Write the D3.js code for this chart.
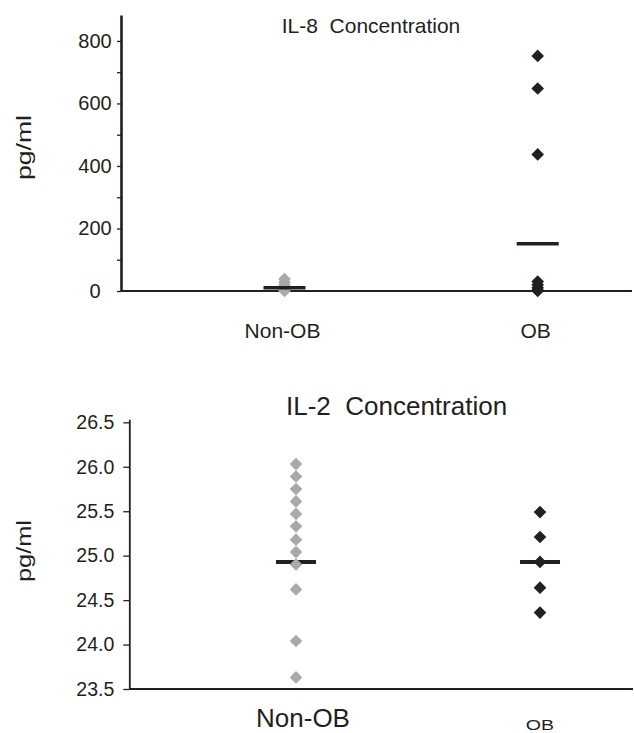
<!DOCTYPE html>
<html>
<head>
<meta charset="utf-8">
<script src="https://cdn.jsdelivr.net/npm/d3@7"></script>
<style>
  html, body { margin: 0; padding: 0; background: #fff; }
  svg { display: block; font-family: "Liberation Sans", Arial, Helvetica, sans-serif; }
</style>
</head>
<body>
<svg id="chart" width="634" height="733"></svg>
<script>
// Groups shared by both panels
const groups = ["Non-OB", "OB"];

// IL-8 concentration (pg/ml)
const il8NonOB = [38, 28, 18, 10, 4, 0];
const il8OB = [752, 648, 437, 30, 20, 10, 3, 0];
const il8Means = [10.6, 151];
const il8Ticks = [0, 100, 200, 300, 400, 500, 600, 700, 800];

// IL-2 concentration (pg/ml)
const il2NonOB = [26.03, 25.89, 25.75, 25.61, 25.47, 25.33, 25.18, 25.04, 24.90, 24.62, 24.04, 23.63];
const il2OB = [25.49, 25.21, 24.93, 24.64, 24.36];
const il2Means = [24.93, 24.93];
const il2Ticks = [23.5, 24.0, 24.5, 25.0, 25.5, 26.0, 26.5];

const INK = "#231f20";
const GREY = "#a7a9ac";

const svg = d3.select("#chart");
const diamond = d3.symbol(d3.symbolSquare, 80);

function drawPoints(g, x, y, values, group, color) {
  g.selectAll(null)
    .data(values)
    .join("path")
    .attr("d", diamond)
    .attr("fill", color)
    .attr("transform", d => `translate(${x(group)},${y(d)}) rotate(45)`);
}

function drawMeans(g, x, y, means, halfWidth, thickness) {
  g.selectAll(null)
    .data(groups.map((k, i) => ({ k, v: means[i] })))
    .join("line")
    .attr("x1", d => x(d.k) - halfWidth)
    .attr("x2", d => x(d.k) + halfWidth)
    .attr("y1", d => y(d.v))
    .attr("y2", d => y(d.v))
    .attr("stroke", INK)
    .attr("stroke-width", thickness);
}

// ---------- IL-8 panel ----------
{
  const y = d3.scaleLinear().domain([0, 883]).range([291, 15]);
  const x = d3.scalePoint().domain(groups).range([284.5, 537.7]);
  const g = svg.append("g");

  const axis = d3.axisLeft(y)
    .tickValues(il8Ticks)
    .tickSize(4)
    .tickSizeOuter(0)
    .tickFormat(d => d % 200 === 0 ? d3.format("d")(d) : "");
  const ag = g.append("g").attr("transform", "translate(121,0)").call(axis);
  ag.select(".domain").attr("stroke", INK).attr("stroke-width", 2.6);
  ag.selectAll(".tick line").attr("stroke", INK).attr("stroke-width", 1.3);
  ag.selectAll(".tick text")
    .attr("fill", INK)
    .attr("font-size", 20)
    .attr("text-anchor", "middle")
    .attr("x", -26);

  // baseline
  g.append("line")
    .attr("x1", 121).attr("x2", 632)
    .attr("y1", y(0)).attr("y2", y(0))
    .attr("stroke", INK).attr("stroke-width", 2);

  drawPoints(g, x, y, il8NonOB, "Non-OB", GREY);
  drawPoints(g, x, y, il8OB, "OB", INK);
  drawMeans(g, x, y, il8Means, 21, 3.6);

  g.append("text")
    .attr("x", 371).attr("y", 33)
    .attr("text-anchor", "middle")
    .attr("font-size", 21)
    .attr("fill", INK)
    .attr("xml:space", "preserve")
    .text("IL-8  Concentration");

  g.selectAll(null)
    .data(groups)
    .join("text")
    .attr("x", d => x(d) - 2)
    .attr("y", 338)
    .attr("text-anchor", "middle")
    .attr("font-size", 21)
    .attr("fill", INK)
    .text(d => d);

  g.append("text")
    .attr("transform", "translate(31,147.5) rotate(-90)")
    .attr("text-anchor", "middle")
    .attr("font-size", 20)
    .attr("textLength", 65)
    .attr("lengthAdjust", "spacingAndGlyphs")
    .attr("fill", INK)
    .text("pg/ml");
}

// ---------- IL-2 panel ----------
{
  const y = d3.scaleLinear().domain([23.5, 26.534]).range([689, 419.3]);
  const x = d3.scalePoint().domain(groups).range([296, 540]);
  const g = svg.append("g");

  const axis = d3.axisLeft(y)
    .tickValues(il2Ticks)
    .tickSize(6)
    .tickSizeOuter(0)
    .tickFormat(d3.format(".1f"));
  const ag = g.append("g").attr("transform", "translate(129.3,0)").call(axis);
  ag.select(".domain").attr("stroke", INK).attr("stroke-width", 1.8);
  ag.selectAll(".tick line").attr("stroke", INK).attr("stroke-width", 1.3);
  ag.selectAll(".tick text")
    .attr("fill", INK)
    .attr("font-size", 19.5)
    .attr("x", -15);

  g.append("line")
    .attr("x1", 129.3).attr("x2", 633)
    .attr("y1", y(23.5)).attr("y2", y(23.5))
    .attr("stroke", INK).attr("stroke-width", 2);

  drawMeans(g, x, y, il2Means, 20, 4);
  drawPoints(g, x, y, il2NonOB, "Non-OB", GREY);
  drawPoints(g, x, y, il2OB, "OB", INK);

  g.append("text")
    .attr("x", 286)
    .attr("y", 415)
    .attr("font-size", 26)
    .attr("fill", INK)
    .attr("xml:space", "preserve")
    .text("IL-2  Concentration");

  g.append("text")
    .attr("x", x("Non-OB") + 7)
    .attr("y", 727)
    .attr("text-anchor", "middle")
    .attr("font-size", 26)
    .attr("fill", INK)
    .text("Non-OB");

  g.append("text")
    .attr("transform", `translate(${x("OB")},729.5) scale(1.4,1)`)
    .attr("text-anchor", "middle")
    .attr("font-size", 14)
    .attr("fill", INK)
    .text("OB");

  g.append("text")
    .attr("transform", "translate(31,551) rotate(-90)")
    .attr("text-anchor", "middle")
    .attr("font-size", 20)
    .attr("textLength", 62)
    .attr("lengthAdjust", "spacingAndGlyphs")
    .attr("fill", INK)
    .text("pg/ml");
}
</script>
</body>
</html>
